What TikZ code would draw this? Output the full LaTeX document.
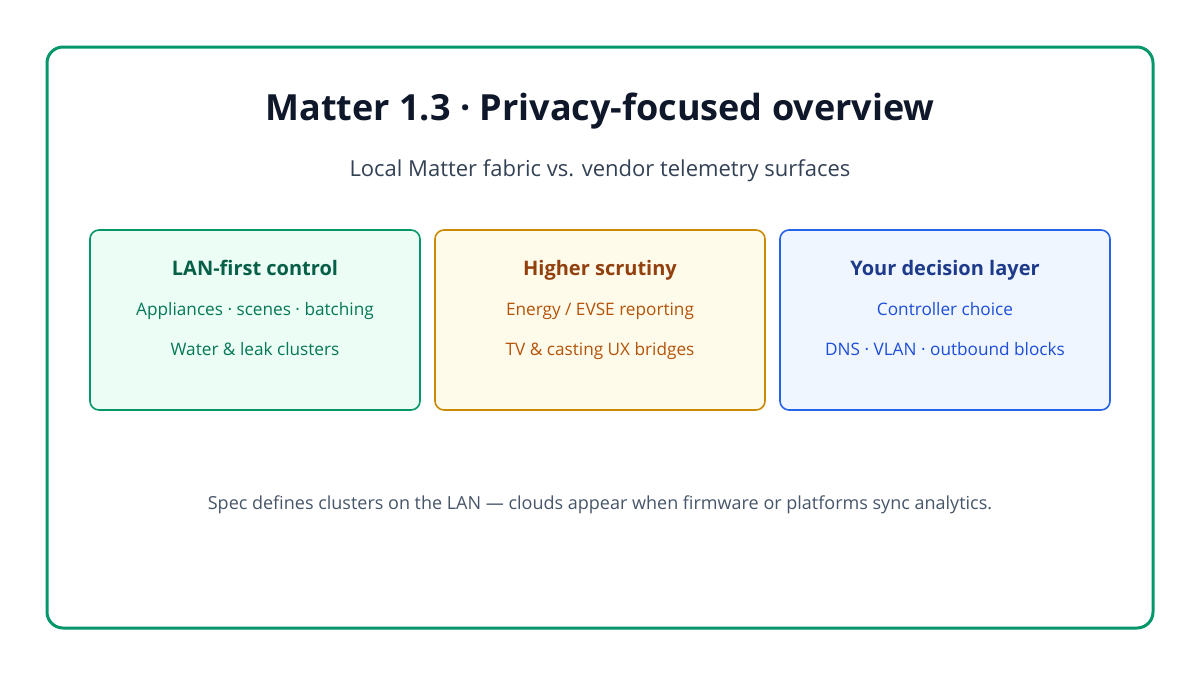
\documentclass[tikz,border=0pt]{standalone}
\usepackage{fontspec}
\setmainfont{Open Sans}
\usetikzlibrary{positioning}
\definecolor{frame}{HTML}{059669}
\definecolor{ink}{HTML}{0F172A}
\definecolor{slate}{HTML}{334155}
\definecolor{muted}{HTML}{475569}
\definecolor{lanfill}{HTML}{ECFDF5}
\definecolor{lantitle}{HTML}{065F46}
\definecolor{lantext}{HTML}{047857}
\definecolor{scrfill}{HTML}{FFFBEB}
\definecolor{scrline}{HTML}{CA8A04}
\definecolor{scrtitle}{HTML}{92400E}
\definecolor{scrtext}{HTML}{B45309}
\definecolor{decfill}{HTML}{EFF6FF}
\definecolor{decline}{HTML}{2563EB}
\definecolor{dectitle}{HTML}{1E3A8A}
\definecolor{dectext}{HTML}{1D4ED8}

\begin{document}
\begin{tikzpicture}[x=1pt,y=-1pt,node distance=15pt,
  card/.style={draw=#1,line width=1.6pt,rounded corners=9pt,minimum width=330pt,minimum height=180pt,inner sep=0pt,outer sep=0pt},
  cardhead/.style={font=\fontsize{20}{24}\selectfont\bfseries,text=#1,anchor=base},
  cardline/.style={font=\fontsize{17.2}{20}\selectfont,text=#1,anchor=base}]
\useasboundingbox[fill=white] (0,0) rectangle (1200,675);
\draw[frame,line width=3pt,rounded corners=16pt] (47,47) rectangle (1153,628);
\node[font=\fontsize{36}{42}\selectfont\bfseries,text=ink,anchor=base] (title) at (600,120) {Matter 1.3 · Privacy-focused overview};
\node[font=\fontsize{22}{26}\selectfont,text=slate,anchor=base] (sub) at (600,176) {Local Matter fabric vs. vendor telemetry surfaces};
\node[card=frame,fill=lanfill] (lan) at (255,320) {};
\node[card=scrline,fill=scrfill,right=of lan] (scr) {};
\node[card=decline,fill=decfill,right=of scr] (dec) {};
\node[cardhead=lantitle] (lanT) at ([yshift=-45pt]lan.north) {LAN-first control};
\node[cardline=lantext] (lanA) at ([yshift=-85pt]lan.north) {Appliances · scenes · batching};
\node[cardline=lantext] (lanB) at ([yshift=-125pt]lan.north) {Water \& leak clusters};
\node[cardhead=scrtitle] (scrT) at ([yshift=-45pt]scr.north) {Higher scrutiny};
\node[cardline=scrtext] (scrA) at ([yshift=-85pt]scr.north) {Energy / EVSE reporting};
\node[cardline=scrtext] (scrB) at ([yshift=-125pt]scr.north) {TV \& casting UX bridges};
\node[cardhead=dectitle] (decT) at ([yshift=-45pt]dec.north) {Your decision layer};
\node[cardline=dectext] (decA) at ([yshift=-85pt]dec.north) {Controller choice};
\node[cardline=dectext] (decB) at ([yshift=-125pt]dec.north) {DNS · VLAN · outbound blocks};
\node[font=\fontsize{18}{22}\selectfont,text=muted,anchor=base] (foot) at (600,509) {Spec defines clusters on the LAN — clouds appear when firmware or platforms sync analytics.};
\end{tikzpicture}
\end{document}
